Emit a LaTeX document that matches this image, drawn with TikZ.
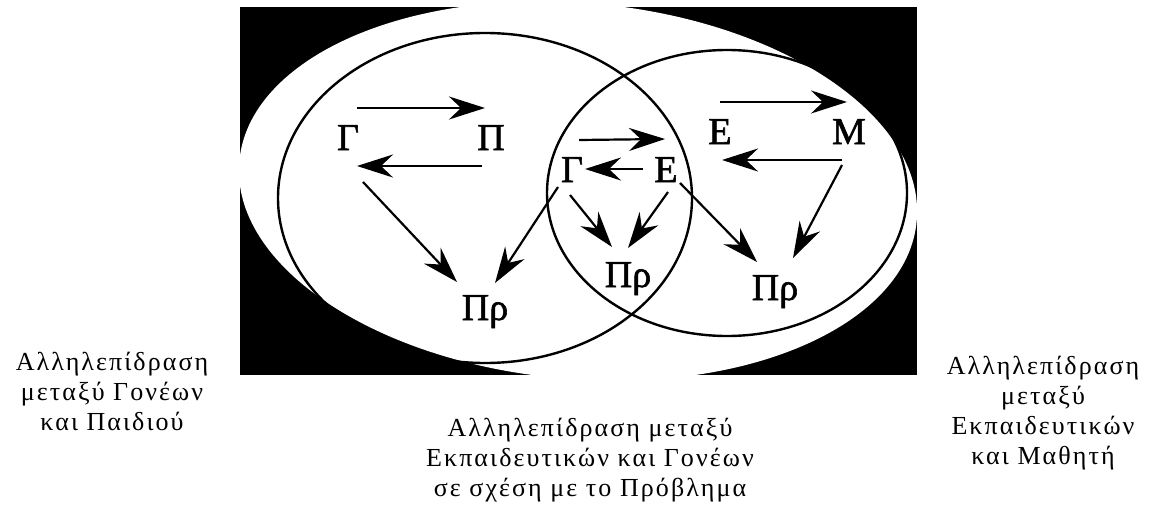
\documentclass[tikz,border=0pt]{standalone}
\usepackage{fontspec}
\setmainfont{Liberation Serif}
\newfontfamily\lblfont{Liberation Serif}[LetterSpace=8]
\newfontfamily\symfont{Liberation Serif}[FakeBold=1.5]
\usetikzlibrary{arrows.meta}

\tikzset{
  letter/.style={font=\symfont\fontsize{38}{38}\selectfont,inner sep=0pt,anchor=base},
  arr/.style={-{Stealth[length=36pt,width=23pt,inset=12pt]},line width=2.2pt},
  caption/.style={font=\lblfont\fontsize{26}{30}\selectfont,align=center,inner sep=0pt,anchor=north},
  ring/.style={line width=2.4pt},
}

\begin{document}
\begin{tikzpicture}[x=1pt,y=-1pt]
 \useasboundingbox (0,0) rectangle (1158,511);
 % background
 \fill[black] (240,7) rectangle (917,375);
 \begin{scope}
  \clip (240,7) rectangle (917,375);
  \fill[white,rotate around={-5:(578,191)}] (578,191) ellipse [x radius=340pt,y radius=188pt];
 \end{scope}
 % circles
 \draw[ring] (485,198) ellipse [x radius=207pt,y radius=165pt];
 \draw[ring] (727,193) ellipse [x radius=180pt,y radius=143pt];
 % left: parents and child
 \node[letter] (gL) at (348,150) {Γ};
 \node[letter] (pL) at (491,150) {Π};
 \node[letter] (prL) at (485,320) {Πρ};
 % middle: teachers and parents
 \node[letter] (gM) at (572,182) {Γ};
 \node[letter] (eM) at (666,182) {Ε};
 \node[letter] (prM) at (628,287) {Πρ};
 % right: teachers and pupil
 \node[letter] (eR) at (720,144) {Ε};
 \node[letter] (mR) at (849,144) {Μ};
 \node[letter] (prR) at (775,300) {Πρ};
 % arrows
 \draw[arr] ([shift={(9,-42)}]gL.base) -- ([shift={(-6,-42)}]pL.base);
 \draw[arr] ([shift={(-9,16)}]pL.base) -- ([shift={(9,16)}]gL.base);
 \draw[arr] ([shift={(15,32)}]gL.base) -- ([shift={(-28,-38)}]prL.base);
 \draw[arr] ([shift={(-14,5)}]gM.base) -- ([shift={(10,-37)}]prL.base);
 \draw[arr] ([shift={(7,-42)}]gM.base) -- ([shift={(-1,-43)}]eM.base);
 \draw[arr] ([shift={(-23,-13)}]eM.base) -- ([shift={(13,-13)}]gM.base);
 \draw[arr] ([shift={(-2,13)}]gM.base) -- ([shift={(-16,-40)}]prM.base);
 \draw[arr] ([shift={(2,10)}]eM.base) -- ([shift={(0,-39)}]prM.base);
 \draw[arr] ([shift={(14,1)}]eM.base) -- ([shift={(-18,-38)}]prR.base);
 \draw[arr] ([shift={(0,-42)}]eR.base) -- ([shift={(-2,-42)}]mR.base);
 \draw[arr] ([shift={(-7,16)}]mR.base) -- ([shift={(2,16)}]eR.base);
 \draw[arr] ([shift={(-7,21)}]mR.base) -- ([shift={(18,-42)}]prR.base);
 % captions
 \node[caption] (capL) at (112,352) {Αλληλεπίδραση\\μεταξύ Γονέων\\και Παιδιού};
 \node[caption] (capM) at (590,418) {Αλληλεπίδραση μεταξύ\\Εκπαιδευτικών και Γονέων\\σε σχέση με το Πρόβλημα};
 \node[caption] (capR) at (1043,356) {Αλληλεπίδραση\\μεταξύ\\Εκπαιδευτικών\\και Μαθητή};
\end{tikzpicture}
\end{document}
